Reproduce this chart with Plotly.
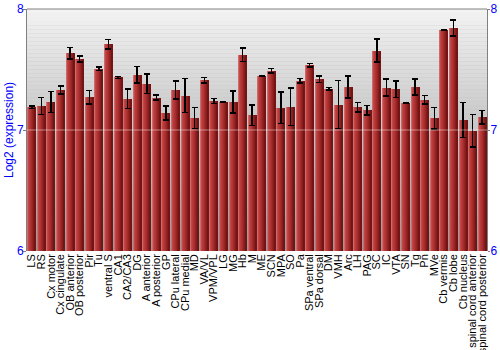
import plotly.graph_objects as go

regions = ["LS", "RS", "Cx motor", "Cx cingulate", "OB anterior", "OB posterior", "Pir", "Tu",
           "ventral S", "CA1", "CA2/CA3", "DG", "A anterior", "A posterior", "GP", "CPu lateral",
           "CPu medial", "MD", "VA/VL", "VPM/VPL", "LG", "MG", "Hb", "M", "ME", "SCN", "MPA", "SO",
           "Pa", "SPa ventral", "SPa dorsal", "DM", "VMH", "Arc", "LH", "PAG", "SC", "IC", "VTA",
           "SN", "Tg", "Pn", "MVe", "Cb vermis", "Cb lobe", "Cb nucleus", "spinal cord anterior",
           "spinal cord posterior"]
expression = [7.188, 7.199, 7.232, 7.331, 7.633, 7.588, 7.271, 7.506,
              7.710, 7.434, 7.257, 7.456, 7.381, 7.268, 7.141, 7.331,
              7.285, 7.099, 7.412, 7.240, 7.232, 7.232, 7.622, 7.123, 7.445, 7.489, 7.185, 7.193,
              7.406, 7.536, 7.420, 7.340, 7.210, 7.356, 7.188, 7.163, 7.657, 7.351, 7.337,
              7.224, 7.356, 7.249, 7.097, 7.829, 7.843, 7.083, 6.994,
              7.105]
errors = [0.010, 0.070, 0.088, 0.033, 0.047, 0.025, 0.057, 0.014,
          0.039, 0.008, 0.080, 0.069, 0.080, 0.022, 0.058, 0.073,
          0.142, 0.088, 0.022, 0.020, 0.004, 0.090, 0.054, 0.085, 0.003, 0.019, 0.131, 0.155,
          0.019, 0.014, 0.026, 0.011, 0.199, 0.091, 0.040, 0.040, 0.094, 0.072, 0.070,
          0.005, 0.066, 0.036, 0.088, 0.003, 0.066, 0.145, 0.135,
          0.055]
y_ticks = [6, 7, 8]
y_title = "Log2 (expression)"

BLUE = "#0000ff"
FONT = "Liberation Sans, Arial, sans-serif"
BAR_W = 0.84

fig = go.Figure()

# cylinder-like gradient: overlay thin slices light-left -> dark-right
slice_colors = ["#cf6a6a", "#c24848", "#b83a3a", "#b03434", "#a42c2c", "#962424", "#861c1c", "#741414"]
n = len(slice_colors)
for k, col in enumerate(slice_colors):
    fig.add_trace(go.Bar(
        x=regions, y=expression,
        width=BAR_W / n, offset=-BAR_W / 2 + k * BAR_W / n,
        marker=dict(color=col, line=dict(width=0)),
        showlegend=False, hoverinfo="skip"))

# error bars on a transparent full-width trace
fig.add_trace(go.Bar(
    x=regions, y=expression, width=BAR_W,
    marker=dict(color="rgba(0,0,0,0)", line=dict(width=0)),
    error_y=dict(type="data", array=errors, visible=True, color="black", thickness=1.5, width=3),
    showlegend=False))

# grey vertical gradient background
shapes = []
bands = 60
for i in range(bands):
    t = i / (bands - 1)
    g = int(round(0xf2 - (0xf2 - 0x98) * t))
    shapes.append(dict(type="rect", xref="paper", yref="paper",
                       x0=0, x1=1, y0=1 - (i + 1) / bands, y1=1 - i / bands,
                       fillcolor=f"rgb({g},{g},{g})", line=dict(width=0), layer="below"))
# top border
shapes.append(dict(type="line", xref="paper", yref="paper", x0=0, x1=1, y0=1, y1=1,
                   line=dict(color="#808080", width=1), layer="above"))
# light reference line at 7
shapes.append(dict(type="line", xref="paper", yref="y", x0=0, x1=1, y0=y_ticks[1], y1=y_ticks[1],
                   line=dict(color="rgba(255,255,255,0.45)", width=1), layer="above"))

fig.update_layout(
    width=500, height=350,
    margin=dict(l=27, r=13, t=9, b=99),
    paper_bgcolor="white", plot_bgcolor="#c0c0c0",
    barmode="overlay", bargap=0,
    shapes=shapes,
    font=dict(family=FONT),
    xaxis=dict(type="category", tickangle=-90, tickfont=dict(size=11, color="black", family=FONT),
               tickmode="linear", tick0=0, dtick=1, automargin=False,
               showgrid=False, showline=False, ticks="", zeroline=False,
               range=[-0.5, len(regions) - 0.5]),
    yaxis=dict(range=[6, 8], tickvals=y_ticks, showgrid=False, zeroline=False, automargin=False,
               tickfont=dict(size=12, color=BLUE, family=FONT),
               ticks="outside", ticklen=3, tickcolor="#808080", ticklabelstandoff=-3,
               showline=True, linecolor="#808080", linewidth=1),
    yaxis2=dict(range=[6, 8], tickvals=y_ticks, overlaying="y", side="right", matches="y",
                showgrid=False, zeroline=False, automargin=False,
                tickfont=dict(size=12, color=BLUE, family=FONT),
                ticks="outside", ticklen=2, tickcolor="#808080", ticklabelstandoff=-2,
                showline=True, linecolor="#808080", linewidth=1),
    annotations=[dict(text=y_title, xref="paper", yref="paper", x=(9 - 27) / 460, y=0.5,
                      xanchor="center", yanchor="middle", textangle=-90, showarrow=False,
                      font=dict(size=12, color=BLUE, family=FONT))],
)
# invisible trace so yaxis2 renders
fig.add_trace(go.Scatter(x=[regions[0]], y=[y_ticks[0]], yaxis="y2", mode="markers",
                         marker=dict(opacity=0), showlegend=False, hoverinfo="skip"))

fig.write_html("out.html")
